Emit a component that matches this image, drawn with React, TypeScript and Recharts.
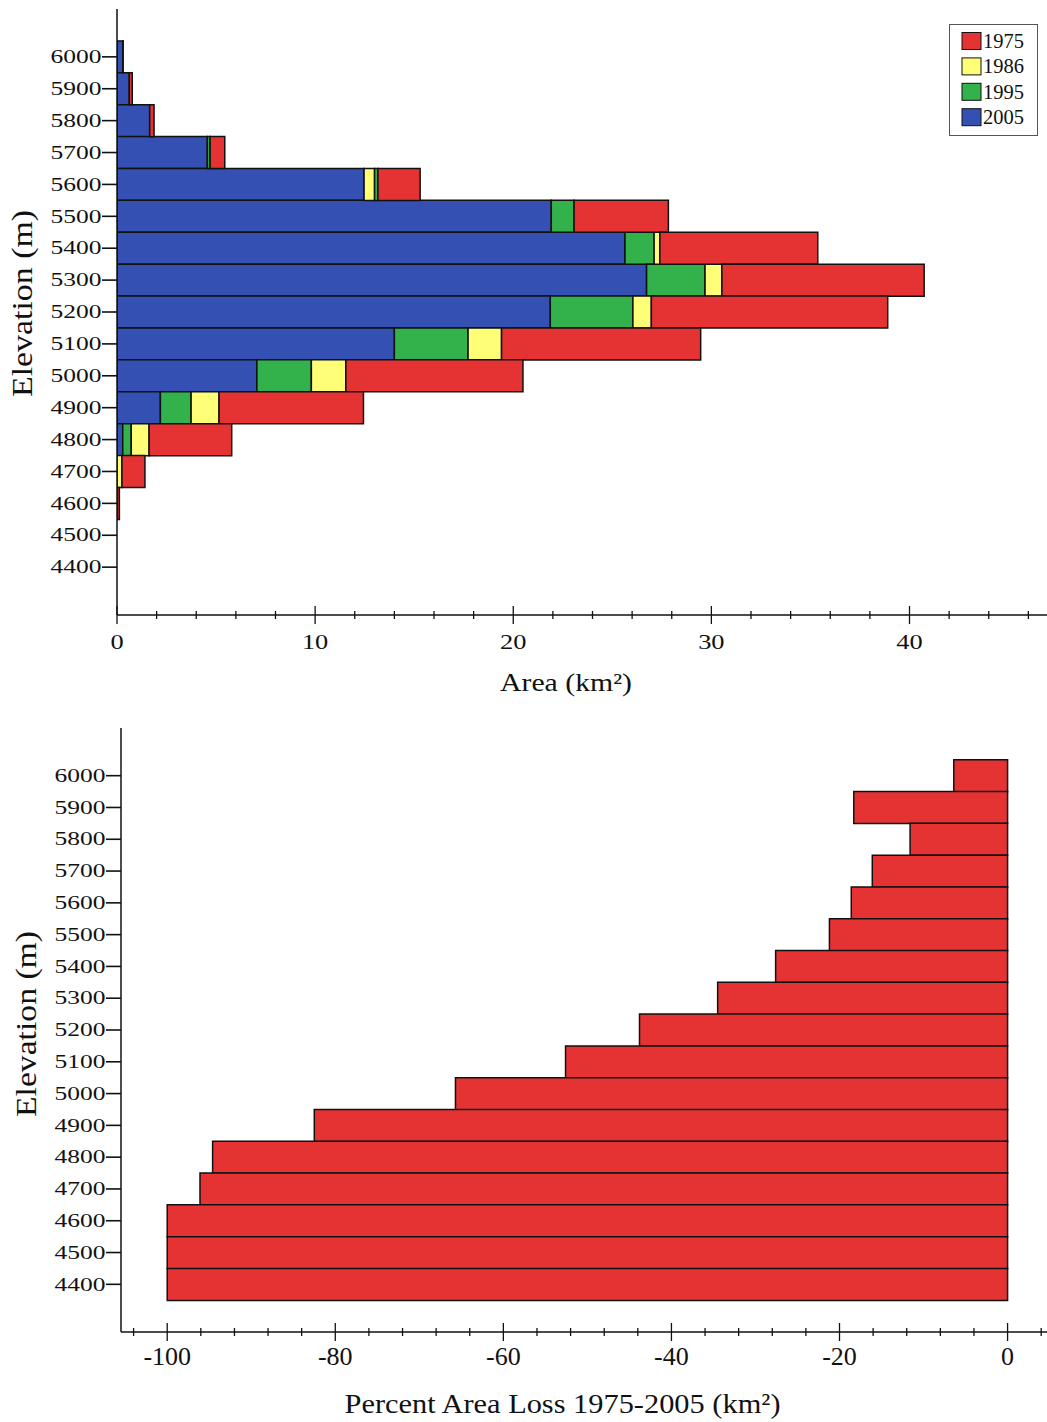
import React from 'react';
import { BarChart, Bar, XAxis, YAxis, Cell, Legend } from 'recharts';

// ---------- data ----------
const ELEV_CATEGORIES = [6100, 6000, 5900, 5800, 5700, 5600, 5500, 5400, 5300, 5200, 5100, 5000, 4900, 4800, 4700, 4600, 4500, 4400, 4300];
const ELEV_LABELS = [6000, 5900, 5800, 5700, 5600, 5500, 5400, 5300, 5200, 5100, 5000, 4900, 4800, 4700, 4600, 4500, 4400];

const YEARS = ['1975', '1986', '1995', '2005'];
const AREA_1975 = [0.31, 0.77, 1.87, 5.44, 15.3, 27.83, 35.37, 40.74, 38.9, 29.46, 20.49, 12.44, 5.79, 1.41, 0.12, 0, 0];
const AREA_1986 = [0.29, 0.62, 1.65, 4.56, 13.0, 21.92, 27.4, 30.53, 26.97, 19.41, 11.55, 5.15, 1.62, 0.25, 0, 0, 0];
const AREA_1995 = [0.29, 0.62, 1.65, 4.7, 13.17, 23.07, 27.11, 29.68, 26.04, 17.72, 9.81, 3.74, 0.72, 0, 0, 0, 0];
const AREA_2005 = [0.29, 0.62, 1.65, 4.56, 12.47, 21.92, 25.64, 26.73, 21.87, 14.0, 7.06, 2.19, 0.29, 0, 0, 0, 0];

const LOSS_PCT = [-6.4, -18.3, -11.6, -16.1, -18.6, -21.2, -27.6, -34.5, -43.8, -52.6, -65.7, -82.5, -94.6, -96.1, -100, -100, -100];

const AREA_TICKS = [0, 2, 4, 6, 8, 10, 12, 14, 16, 18, 20, 22, 24, 26, 28, 30, 32, 34, 36, 38, 40, 42, 44, 46];
const AREA_MAJOR = [0, 10, 20, 30, 40];
const LOSS_TICKS = [-104, -100, -96, -92, -88, -84, -80, -76, -72, -68, -64, -60, -56, -52, -48, -44, -40, -36, -32, -28, -24, -20, -16, -12, -8, -4, 0, 4];
const LOSS_MAJOR = [-100, -80, -60, -40, -20, 0];

const RED = '#e53333';
const YELLOW = '#ffff77';
const GREEN = '#33b24c';
const BLUE = '#3350b2';
const YEAR_COLORS = [RED, YELLOW, GREEN, BLUE];
const YEAR_VALUES = [AREA_1975, AREA_1986, AREA_1995, AREA_2005];

const FONT = '"Liberation Serif", "Times New Roman", serif';
const INK = '#111';

// overlapping bars: per elevation, sort years by area so the smaller area sits on top
// (on ties, the more recent year is drawn on top)
const areaRows = ELEV_CATEGORIES.map((elev) => {
  const i = ELEV_LABELS.indexOf(elev);
  const row: any = { elev: String(elev) };
  if (i < 0) {
    for (let k = 0; k < 4; k++) { row['seg' + k] = 0; row['col' + k] = RED; }
    return row;
  }
  const sorted = YEAR_VALUES.map((vals, y) => ({ v: vals[i], y, color: YEAR_COLORS[y] })).sort((a, b) =>
    a.v !== b.v ? a.v - b.v : b.y - a.y
  );
  let prev = 0;
  sorted.forEach((s, k) => {
    row['seg' + k] = Math.max(0, s.v - prev);
    row['col' + k] = s.color;
    prev = s.v;
  });
  return row;
});

const lossRows = ELEV_CATEGORIES.map((elev) => {
  const i = ELEV_LABELS.indexOf(elev);
  return { elev: String(elev), loss: i < 0 ? 0 : LOSS_PCT[i] };
});

// ---------- ticks ----------
const ElevTick = (props: any) => {
  const { x, y, payload } = props;
  if (!ELEV_LABELS.map(String).includes(String(payload.value))) return <g />;
  return (
    <g>
      <line x1={x - 15} x2={x} y1={y} y2={y} stroke={INK} strokeWidth={1.6} />
      <text
        x={x - 15.5}
        y={y + 6.2}
        textAnchor="end"
        fontFamily={FONT}
        fontSize={18.5}
        fill={INK}
        textLength={51}
        lengthAdjust="spacingAndGlyphs"
      >
        {payload.value}
      </text>
    </g>
  );
};

const AreaTick = (props: any) => {
  const { x, y, payload } = props;
  const v = payload.value;
  const major = AREA_MAJOR.includes(v);
  const s = String(v);
  return (
    <g>
      <line x1={x} x2={x} y1={y - (major ? 9 : 4)} y2={y + (major ? 9 : 4)} stroke={INK} strokeWidth={1.3} />
      {major && (
        <text
          x={x}
          y={y + 34}
          textAnchor="middle"
          fontFamily={FONT}
          fontSize={20.5}
          fill={INK}
          textLength={13.2 * s.length}
          lengthAdjust="spacingAndGlyphs"
        >
          {s}
        </text>
      )}
    </g>
  );
};

const LossTick = (props: any) => {
  const { x, y, payload } = props;
  const v = payload.value;
  const major = LOSS_MAJOR.includes(v);
  return (
    <g>
      <line x1={x} x2={x} y1={y - (major ? 9 : 4)} y2={y + (major ? 9 : 4)} stroke={INK} strokeWidth={1.3} />
      {major && (
        <text x={x} y={y + 32.5} textAnchor="middle" fontFamily={FONT} fontSize={26} fill={INK}>
          {String(v)}
        </text>
      )}
    </g>
  );
};

// ---------- titles ----------
const AreaTitle = () => (
  <text x={566} y={691} textAnchor="middle" fontFamily={FONT} fontSize={24.5} fill={INK} textLength={132} lengthAdjust="spacingAndGlyphs">
    Area (km²)
  </text>
);

const ElevTitleTop = () => (
  <text
    x={31.7}
    y={303.5}
    transform="rotate(-90 31.7 303.5)"
    textAnchor="middle"
    fontFamily={FONT}
    fontSize={30}
    fill={INK}
    textLength={187}
    lengthAdjust="spacingAndGlyphs"
  >
    Elevation (m)
  </text>
);

const LossTitle = () => (
  <text x={562.5} y={713} textAnchor="middle" fontFamily={FONT} fontSize={28} fill={INK} textLength={436} lengthAdjust="spacingAndGlyphs">
    Percent Area Loss 1975-2005 (km²)
  </text>
);

const ElevTitleBottom = () => (
  <text
    x={35.5}
    y={324}
    transform="rotate(-90 35.5 324)"
    textAnchor="middle"
    fontFamily={FONT}
    fontSize={30}
    fill={INK}
    textLength={186}
    lengthAdjust="spacingAndGlyphs"
  >
    Elevation (m)
  </text>
);

// ---------- legend ----------
const renderLegend = () => (
  <svg width={89} height={112} style={{ display: 'block' }}>
    <rect x={0.5} y={0.5} width={88} height={111} fill="#fff" stroke="#555" strokeWidth={1} />
    {YEARS.map((yr, i) => {
      const cy = 17 + i * 25.4;
      return (
        <g key={yr}>
          <rect x={13} y={cy - 8.5} width={19} height={17} fill={YEAR_COLORS[i]} stroke={INK} strokeWidth={1} />
          <text x={34} y={cy + 7} fontFamily={FONT} fontSize={20.5} fill={INK}>
            {yr}
          </text>
        </g>
      );
    })}
  </svg>
);

const SEG_KEYS = ['seg0', 'seg1', 'seg2', 'seg3'];

export default function App() {
  return (
    <div style={{ position: 'absolute', left: 0, top: 0, width: 1047, height: 1422, overflow: 'hidden', background: '#fff' }}>
      <div style={{ position: 'absolute', left: 0, top: 0 }}>
        <BarChart
          width={1068}
          height={700}
          data={areaRows}
          layout="vertical"
          barCategoryGap={0}
          margin={{ top: 9, right: 0, bottom: 0, left: 0 }}
        >
          <XAxis
            xAxisId="top"
            orientation="top"
            type="number"
            domain={[0, 48]}
            allowDataOverflow
            height={0}
            tick={false}
            tickLine={false}
            axisLine={{ stroke: INK, strokeWidth: 1.5 }}
          />
          <XAxis
            type="number"
            domain={[0, 48]}
            allowDataOverflow
            ticks={AREA_TICKS}
            interval={0}
            height={85}
            tickSize={0}
            tickMargin={0}
            tickLine={false}
            axisLine={{ stroke: INK, strokeWidth: 1.5 }}
            tick={(p: any) => <AreaTick {...p} />}
            label={<AreaTitle />}
          />
          <YAxis
            type="category"
            dataKey="elev"
            width={117}
            interval={0}
            tickSize={0}
            tickMargin={0}
            tickLine={false}
            axisLine={{ stroke: INK, strokeWidth: 1.5 }}
            tick={(p: any) => <ElevTick {...p} />}
            label={<ElevTitleTop />}
          />
          <Legend
            layout="horizontal"
            verticalAlign="middle"
            align="center"
            content={renderLegend}
            wrapperStyle={{ left: 949, top: 24, width: 89, height: 112 }}
          />
          {SEG_KEYS.map((key, k) => (
            <Bar key={key} dataKey={key} stackId="area" stroke={INK} strokeWidth={1.5} isAnimationActive={false} legendType="none">
              {areaRows.map((r, i) => (
                <Cell key={i} fill={r['col' + k]} />
              ))}
            </Bar>
          ))}
        </BarChart>
      </div>

      <div style={{ position: 'absolute', left: 0, top: 700 }}>
        <BarChart
          width={1058}
          height={722}
          data={lossRows}
          layout="vertical"
          barCategoryGap={0}
          margin={{ top: 28, right: 0, bottom: 0, left: 0 }}
        >
          <XAxis
            xAxisId="top"
            orientation="top"
            type="number"
            domain={[-105.5, 6]}
            allowDataOverflow
            height={0}
            tick={false}
            tickLine={false}
            axisLine={{ stroke: INK, strokeWidth: 1.5 }}
          />
          <XAxis
            type="number"
            domain={[-105.5, 6]}
            allowDataOverflow
            ticks={LOSS_TICKS}
            interval={0}
            height={90}
            tickSize={0}
            tickMargin={0}
            tickLine={false}
            axisLine={{ stroke: INK, strokeWidth: 1.5 }}
            tick={(p: any) => <LossTick {...p} />}
            label={<LossTitle />}
          />
          <YAxis
            type="category"
            dataKey="elev"
            width={121}
            interval={0}
            tickSize={0}
            tickMargin={0}
            tickLine={false}
            axisLine={{ stroke: INK, strokeWidth: 1.5 }}
            tick={(p: any) => <ElevTick {...p} />}
            label={<ElevTitleBottom />}
          />
          <Bar dataKey="loss" fill={RED} stroke={INK} strokeWidth={1.5} isAnimationActive={false} />
        </BarChart>
      </div>
    </div>
  );
}
